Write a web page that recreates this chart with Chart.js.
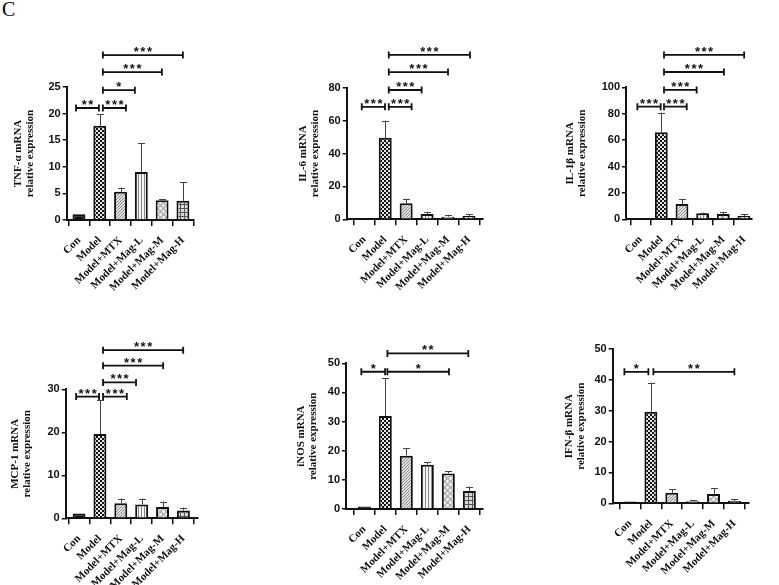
<!DOCTYPE html>
<html><head><meta charset="utf-8">
<script src="https://cdn.jsdelivr.net/npm/chart.js@4/dist/chart.umd.min.js"></script>
<style>
html,body{margin:0;padding:0;background:#fff;}
#wrap{position:relative;width:779px;height:585px;overflow:hidden;background:#fff;}
#wrap canvas{position:absolute;}
#lbl{position:absolute;left:2px;top:-2px;font:20px 'Liberation Serif';color:#000;}
</style></head><body>
<div id="wrap"><div id="lbl">C</div></div>
<script>
// ---------- data ----------
const groups = ['Con','Model','Model+MTX','Model+Mag-L','Model+Mag-M','Model+Mag-H'];

const tnfMean = [1.1, 17.7, 5.3, 9.0, 3.7, 3.6];
const tnfSD   = [0, 2.2, 0.8, 5.4, 0.2, 3.5];
const tnfTicks = [0, 5, 10, 15, 20, 25];
const tnfSig = [[-0.14,0.96,21.05,'**'],[1.15,2.26,21.05,'***'],[1.15,2.69,24.4,'*'],[1.15,3.99,27.8,'***'],[1.15,5.0,31.0,'***']];

const il6Mean = [0.5, 49.5, 9.7, 3.2, 1.6, 2.0];
const il6SD   = [0, 10.5, 2.8, 1.3, 1.2, 1.2];
const il6Ticks = [0, 20, 40, 60, 80];
const il6Sig = [[-0.12,0.99,68.4,'***'],[1.17,2.26,68.4,'***'],[1.17,2.74,78.6,'***'],[1.17,4.0,89.5,'***'],[1.17,5.05,99.9,'***']];

const il1bMean = [0.5, 66, 11.6, 4.5, 4.0, 2.5];
const il1bSD   = [0, 14.8, 3.8, 0.6, 1.6, 1.5];
const il1bTicks = [0, 20, 40, 60, 80, 100];
const il1bSig = [[-0.16,0.97,85.3,'***'],[1.13,2.23,85.3,'***'],[1.13,2.71,98,'***'],[1.13,4.03,111.6,'***'],[1.13,5.01,124.5,'***']];

const mcpMean = [1.1, 19.6, 3.5, 3.2, 2.6, 1.8];
const mcpSD   = [0, 7.8, 1.1, 1.4, 1.3, 0.7];
const mcpTicks = [0, 10, 20, 30];
const mcpSig = [[-0.14,0.96,28.3,'***'],[1.15,2.29,28.3,'***'],[1.15,2.73,31.6,'***'],[1.15,4.03,35.5,'***'],[1.15,4.99,39.1,'***']];

const inosMean = [0.9, 31.9, 18.3, 15.2, 12.2, 6.2];
const inosSD   = [0, 13, 2.5, 0.8, 0.7, 1.5];
const inosTicks = [0, 10, 20, 30, 40, 50];
const inosSig = [[-0.14,0.99,47.1,'*'],[1.1,4.03,47.1,'*'],[1.1,4.95,53.4,'**']];

const ifnMean = [0.6, 29.7, 3.4, 0.7, 3.0, 0.8];
const ifnSD   = [0, 9.4, 1.2, 0.4, 1.9, 0.6];
const ifnTicks = [0, 10, 20, 30, 40, 50];
const ifnSig = [[-0.27,0.88,42.6,'*'],[1.12,5.0,42.6,'**']];

// ---------- layout ----------
const panels = [
  {title:'TNF-α mRNA', mean:tnfMean, sd:tnfSD, ticks:tnfTicks, sig:tnfSig,
   box:[0,0,260,300], axisL:66.7, axisR:193.3, top:87, bottom:220, xMin:-0.59, xMax:5.5, titleX:18},
  {title:'IL-6 mRNA', mean:il6Mean, sd:il6SD, ticks:il6Ticks, sig:il6Sig,
   box:[260,0,260,300], axisL:346.7, axisR:483, top:87.7, bottom:219.3, xMin:-0.84, xMax:5.67, titleX:42.7},
  {title:'IL-1β mRNA', mean:il1bMean, sd:il1bSD, ticks:il1bTicks, sig:il1bSig,
   box:[520,0,259,300], axisL:626, axisR:752, top:87.3, bottom:219.3, xMin:-0.71, xMax:5.39, titleX:50},
  {title:'MCP-1 mRNA', mean:mcpMean, sd:mcpSD, ticks:mcpTicks, sig:mcpSig,
   box:[0,300,260,285], axisL:65.7, axisR:198, top:389.3, bottom:518.3, xMin:-0.64, xMax:5.7, titleX:15},
  {title:'iNOS mRNA', mean:inosMean, sd:inosSD, ticks:inosTicks, sig:inosSig,
   box:[260,300,260,285], axisL:346, axisR:483, top:363.3, bottom:509, xMin:-0.87, xMax:5.65, titleX:40.7},
  {title:'IFN-β mRNA', mean:ifnMean, sd:ifnSD, ticks:ifnTicks, sig:ifnSig,
   box:[520,300,259,285], axisL:612.7, axisR:749, top:349, bottom:503.3, xMin:-0.83, xMax:5.7, titleX:49}
];

function tile(ctx, size, draw){
  const c = document.createElement('canvas'); c.width = size; c.height = size;
  const g = c.getContext('2d'); draw(g, size);
  return ctx.createPattern(c, 'repeat');
}
function makeFills(ctx){
  return [
    '#111',
    tile(ctx, 4, g=>{g.fillStyle='#e6e6e6';g.fillRect(0,0,4,4);g.fillStyle='#111';g.fillRect(0,0,2,2);g.fillRect(2,2,2,2);}),
    tile(ctx, 3, g=>{g.fillStyle='#e2e2e2';g.fillRect(0,0,3,3);g.fillStyle='#8a8a8a';g.fillRect(0,0,1,1);g.fillRect(2,1,1,1);g.fillRect(1,2,1,1);}),
    tile(ctx, 3, g=>{g.fillStyle='#f4f4f4';g.fillRect(0,0,3,3);g.fillStyle='#888';g.fillRect(0,0,1,3);}),
    tile(ctx, 6, g=>{g.fillStyle='#b5b5b5';g.fillRect(0,0,6,6);g.fillStyle='#fafafa';g.beginPath();g.arc(1.5,1.5,1.4,0,Math.PI*2);g.arc(4.5,4.5,1.4,0,Math.PI*2);g.fill();}),
    tile(ctx, 4, g=>{g.fillStyle='#d8d8d8';g.fillRect(0,0,4,4);g.fillStyle='#555';g.fillRect(0,0,4,1);g.fillRect(0,0,1,4);})
  ];
}

const errPlugin = {
  id:'errbars',
  afterDatasetsDraw(chart){
    const p = chart.config.options.panel;
    const meta = chart.getDatasetMeta(0), ys = chart.scales.y, c = chart.ctx;
    c.save(); c.strokeStyle = '#444'; c.lineWidth = 1;
    meta.data.forEach((bar,i)=>{
      const sd = p.sd[i]; if (!sd) return;
      const yb = ys.getPixelForValue(p.mean[i]), yt = ys.getPixelForValue(p.mean[i]+sd);
      const x = Math.round(bar.x)+0.5;
      c.beginPath(); c.moveTo(x, yb); c.lineTo(x, yt);
      c.moveTo(x-3.5, Math.round(yt)+0.5); c.lineTo(x+3.5, Math.round(yt)+0.5); c.stroke();
    });
    c.restore();
  }
};
const sigPlugin = {
  id:'sig',
  afterDraw(chart){
    const p = chart.config.options.panel;
    const xs = chart.scales.x, ys = chart.scales.y, c = chart.ctx;
    c.save(); c.strokeStyle = '#111'; c.fillStyle = '#111'; c.lineWidth = 1.8;
    c.font = 'bold 13px "Liberation Sans"'; c.textAlign = 'center'; c.textBaseline = 'alphabetic';
    try { c.letterSpacing = '1.5px'; } catch(e) {}
    p.sig.forEach(([a,b,h,t])=>{
      const x1 = xs.getPixelForValue(a), x2 = xs.getPixelForValue(b), y = ys.getPixelForValue(h);
      c.beginPath();
      c.moveTo(x1, y-3.5); c.lineTo(x1, y+3.5);
      c.moveTo(x1, y); c.lineTo(x2, y);
      c.moveTo(x2, y-3.5); c.lineTo(x2, y+3.5);
      c.stroke();
      c.fillText(t, (x1+x2)/2 + 0.75, y+1);
    });
    c.restore();
  }
};

const wrap = document.getElementById('wrap');
panels.forEach(p=>{
  const [bx,by,bw,bh] = p.box;
  const cv = document.createElement('canvas');
  cv.width = bw; cv.height = bh;
  cv.style.left = bx+'px'; cv.style.top = by+'px'; cv.style.width = bw+'px'; cv.style.height = bh+'px';
  wrap.appendChild(cv);
  const ctx = cv.getContext('2d');
  const fills = makeFills(ctx);
  const yW = p.axisL - bx, padTop = p.top - by, xH = by + bh - p.bottom, padRight = bx + bw - p.axisR;
  const tfSize = 11, tfLH = 1.12;
  new Chart(ctx, {
    type:'bar',
    data:{datasets:[{
      data: p.mean.map((v,i)=>({x:i, y:v})),
      backgroundColor: fills, borderColor:'#111', borderWidth:2, borderSkipped:'start',
      barPercentage:0.62, categoryPercentage:1
    }]},
    options:{
      panel:p,
      responsive:false, animation:false, devicePixelRatio:1,
      layout:{padding:{left:0, top:padTop, right:padRight, bottom:0}},
      plugins:{legend:{display:false}, tooltip:{enabled:false}, title:{display:false}},
      scales:{
        x:{type:'linear', min:p.xMin, max:p.xMax, offset:false,
           afterBuildTicks:s=>{ s.ticks = groups.map((g,i)=>({value:i})); },
           afterFit:s=>{ s.height = xH; },
           ticks:{callback:v=>groups[v], minRotation:45, maxRotation:45, autoSkip:false,
                  font:{family:'Liberation Serif', size:11, weight:'bold'}, color:'#111', padding:8},
           grid:{drawOnChartArea:false, drawTicks:true, tickLength:6, color:'#111', lineWidth:1.5},
           border:{display:true, color:'#111', width:2}},
        y:{min:0, max:p.ticks[p.ticks.length-1],
           afterBuildTicks:s=>{ s.ticks = p.ticks.map(v=>({value:v})); },
           afterFit:s=>{ s.width = yW; },
           ticks:{font:{family:'Liberation Sans', size:11, weight:'bold'}, color:'#111', padding:2},
           grid:{drawOnChartArea:false, drawTicks:true, tickLength:4, color:'#111', lineWidth:1.5},
           border:{display:true, color:'#111', width:2},
           title:{display:true, text:[p.title,'relative expression'],
                  font:{family:'Liberation Serif', size:tfSize, weight:'bold', lineHeight:tfLH}, color:'#111',
                  padding:{top:p.titleX - tfSize*tfLH/2, bottom:0}}}
      }
    },
    plugins:[errPlugin, sigPlugin]
  });
});
</script>
</body></html>
